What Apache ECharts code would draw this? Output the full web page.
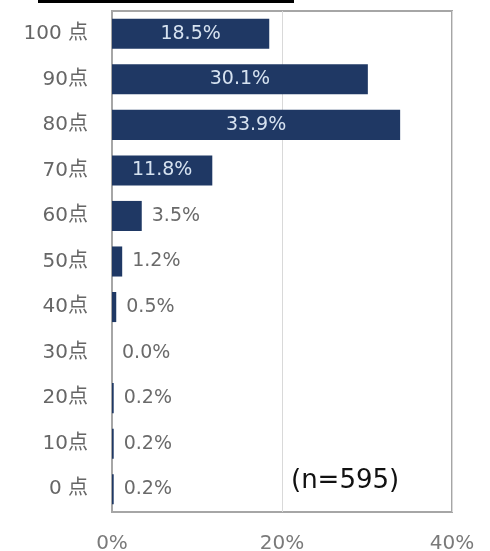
<!DOCTYPE html>
<html>
<head>
<meta charset="utf-8">
<script src="https://cdn.jsdelivr.net/npm/echarts@6/dist/echarts.min.js"></script>
<style>html,body{margin:0;padding:0;background:#fff}#c{width:490px;height:551px}</style>
</head>
<body>
<div id="c"></div>
<script>
const categories = ['100 点','90点','80点','70点','60点','50点','40点','30点','20点','10点','0 点'];
const values = [18.5, 30.1, 33.9, 11.8, 3.5, 1.2, 0.5, 0.0, 0.2, 0.2, 0.2];
const xTicks = [0, 20, 40];
const note = '(n=595)';

const FONT = '"DejaVu Sans", "Noto Sans CJK JP", sans-serif';
const chart = echarts.init(document.getElementById('c'));
const data = values.map(v => ({
  value: v,
  label: v >= 10
    ? { position: 'inside', color: '#d6e2f0' }
    : { position: 'right', color: '#6a6a6a', distance: 10 }
}));
chart.setOption({
  animation: false,
  grid: { left: 112, right: 38, top: 11, bottom: 39, show: true, borderColor: '#a6a6a6', borderWidth: 2,
    containLabel: false, outerBoundsMode: 'none' },
  xAxis: {
    type: 'value', min: 0, max: 40, interval: 20,
    axisLine: { show: false }, axisTick: { show: false },
    splitLine: { show: true, lineStyle: { color: '#d9d9d9', width: 1 } },
    axisLabel: { formatter: v => v + '%', color: '#7a7a7a', fontSize: 20, fontFamily: FONT, margin: 22,
      customValues: xTicks }
  },
  yAxis: {
    type: 'category', data: categories, inverse: true,
    axisLine: { show: true, lineStyle: { color: '#a6a6a6', width: 2 } },
    axisTick: { show: false },
    axisLabel: { color: '#666666', fontSize: 20, fontFamily: FONT, margin: 24 }
  },
  series: [{
    type: 'bar', data: data, barWidth: '66%',
    itemStyle: { color: '#1f3864' },
    label: { show: true, formatter: p => p.value.toFixed(1) + '%', fontSize: 19, fontFamily: FONT }
  }],
  graphic: [
    { type: 'rect', shape: { x: 38, y: 0, width: 256, height: 3 }, style: { fill: '#000' } },
    { type: 'text', x: 291, y: 481, style: { text: note, fontSize: 26, fontFamily: '"DejaVu Sans", sans-serif', fill: '#111', verticalAlign: 'middle' } }
  ]
});
</script>
</body>
</html>
